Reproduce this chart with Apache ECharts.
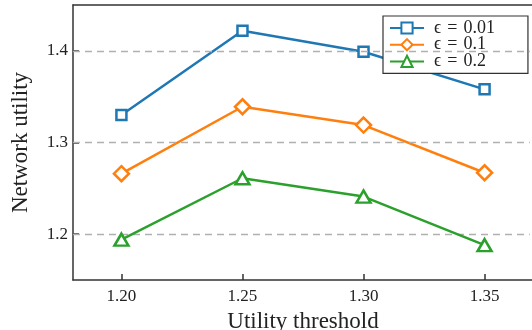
<!DOCTYPE html>
<html><head><meta charset="utf-8">
<script src="https://cdn.jsdelivr.net/npm/echarts@6/dist/echarts.min.js"></script>
<style>html,body{margin:0;padding:0;background:#fff;overflow:hidden}#c{width:532px;height:330px}</style>
</head><body><div id="c"></div>
<script>
var thresholds = [1.20, 1.25, 1.30, 1.35];
var eps001 = [1.330, 1.422, 1.399, 1.358];
var eps01 = [1.266, 1.339, 1.319, 1.267];
var eps02 = [1.194, 1.261, 1.241, 1.188];
var seriesNames = ['ϵ\u2004=\u20040.01', 'ϵ\u2004=\u20040.1', 'ϵ\u2004=\u20040.2'];
var xTicks = [1.20, 1.25, 1.30, 1.35];
var yTicks = [1.2, 1.3, 1.4];

var FONT = '"Liberation Serif","DejaVu Serif",serif';
var colors = ['#1f77b4', '#ff7f0e', '#2ca02c'];
var symbols = ['rect', 'diamond', 'triangle'];
var sizes = [10, 15, [14, 12]];
var allData = [eps001, eps01, eps02];

var series = allData.map(function (vals, i) {
  return {
    name: seriesNames[i],
    type: 'line',
    data: thresholds.map(function (x, j) { return [x, vals[j]]; }),
    color: colors[i],
    symbol: symbols[i],
    symbolSize: sizes[i],
    showAllSymbol: true,
    clip: false,
    lineStyle: { color: colors[i], width: 2.5 },
    itemStyle: { color: '#fff', borderColor: colors[i], borderWidth: 2.5 },
    z: 3 + i,
    animation: false
  };
});
series.push({
  type: 'line', data: [], silent: true, animation: false,
  markLine: {
    silent: true, symbol: 'none', animation: false, label: { show: false },
    lineStyle: { color: '#b0b0b0', width: 1.3, type: [7, 5] },
    data: yTicks.map(function (v) { return { yAxis: v }; })
  },
  z: 1
});

var axisLineStyle = { color: '#333', width: 1.5 };
var chart = echarts.init(document.getElementById('c'), null, { renderer: 'canvas' });
chart.setOption({
  animation: false,
  grid: { left: 73, top: 5, right: -1, bottom: 50, outerBoundsMode: 'none', containLabel: false, show: false },
  xAxis: [{
    type: 'value', min: 1.18, max: 1.37,
    name: 'Utility threshold', nameLocation: 'middle', nameGap: 30,
    nameTextStyle: { fontFamily: FONT, fontSize: 23, color: '#222' },
    axisLine: { show: true, lineStyle: axisLineStyle },
    axisTick: { show: true, inside: true, length: 6, customValues: xTicks, lineStyle: axisLineStyle },
    axisLabel: { customValues: xTicks, margin: 8, fontFamily: FONT, fontSize: 17, color: '#222',
      formatter: function (v) { return Number(v).toFixed(2); } },
    splitLine: { show: false }
  }, {
    type: 'value', min: 1.18, max: 1.37, position: 'top',
    axisLine: { show: true, onZero: false, lineStyle: axisLineStyle },
    axisTick: { show: false }, axisLabel: { show: false }, splitLine: { show: false }
  }],
  yAxis: {
    type: 'value', min: 1.15, max: 1.45,
    name: 'Network utility', nameLocation: 'middle', nameGap: 41, nameRotate: 90,
    nameTextStyle: { fontFamily: FONT, fontSize: 23, color: '#222' },
    axisLine: { show: true, lineStyle: axisLineStyle },
    axisTick: { show: true, inside: true, length: 6, customValues: yTicks, lineStyle: axisLineStyle },
    axisLabel: { customValues: yTicks, margin: 5, fontFamily: FONT, fontSize: 17, color: '#222',
      formatter: function (v) { return Number(v).toFixed(1); } },
    splitLine: { show: false }
  },
  legend: {
    data: seriesNames,
    orient: 'vertical', left: 383, top: 16,
    padding: [3, 33, 3, 6],
    itemWidth: 34, itemHeight: 14, itemGap: -1.3,
    backgroundColor: '#fff', borderColor: '#333', borderWidth: 1.2, borderRadius: 0,
    textStyle: { fontFamily: FONT, fontSize: 18, color: '#222', padding: [0, 0, 0, 5] }
  },
  graphic: [{ type: 'rect', z: 100, silent: true,
    shape: { x: 529.8, y: 7, width: 3, height: 271 }, style: { fill: '#fff' } }],
  series: series
});
</script>
</body></html>
